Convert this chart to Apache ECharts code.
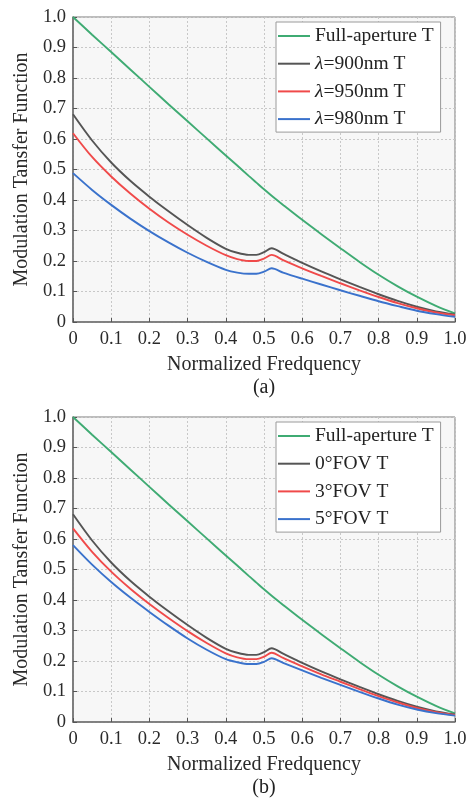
<!DOCTYPE html>
<html>
<head>
<meta charset="utf-8">
<script src="https://cdn.jsdelivr.net/npm/echarts@6/dist/echarts.min.js"></script>
<style>html,body{margin:0;padding:0;background:#fff;}#c{width:472px;height:798px;}</style>
</head>
<body>
<div id="c"></div>
<script>
// ---- data ----
const freq = [0, 0.05, 0.1, 0.15, 0.2, 0.25, 0.3, 0.35, 0.4, 0.43, 0.46, 0.48, 0.5, 0.52, 0.55, 0.6, 0.65, 0.7, 0.75, 0.8, 0.85, 0.9, 0.95, 1.0];
const tickLabels = ['0', '0.1', '0.2', '0.3', '0.4', '0.5', '0.6', '0.7', '0.8', '0.9', '1.0'];

const fullAperture = [1.0, 0.942, 0.885, 0.828, 0.771, 0.714, 0.658, 0.602, 0.546, 0.513, 0.479, 0.457, 0.435, 0.414, 0.384, 0.335, 0.288, 0.242, 0.197, 0.155, 0.117, 0.083, 0.053, 0.028];
const wl900 = [0.681, 0.595, 0.523, 0.463, 0.411, 0.363, 0.318, 0.276, 0.240, 0.227, 0.220, 0.220, 0.229, 0.242, 0.224, 0.194, 0.166, 0.140, 0.115, 0.091, 0.069, 0.050, 0.035, 0.025];
const wl950 = [0.619, 0.541, 0.477, 0.421, 0.371, 0.326, 0.286, 0.250, 0.219, 0.206, 0.200, 0.200, 0.208, 0.220, 0.203, 0.176, 0.151, 0.127, 0.104, 0.082, 0.062, 0.045, 0.031, 0.022];
const wl980 = [0.488, 0.433, 0.384, 0.339, 0.298, 0.261, 0.227, 0.197, 0.171, 0.162, 0.158, 0.158, 0.165, 0.176, 0.162, 0.142, 0.123, 0.104, 0.086, 0.068, 0.052, 0.037, 0.026, 0.017];

const fov0 = [0.681, 0.595, 0.523, 0.463, 0.411, 0.363, 0.318, 0.276, 0.240, 0.227, 0.220, 0.220, 0.229, 0.242, 0.224, 0.194, 0.166, 0.140, 0.115, 0.091, 0.069, 0.050, 0.035, 0.025];
const fov3 = [0.635, 0.558, 0.493, 0.437, 0.387, 0.341, 0.298, 0.259, 0.225, 0.212, 0.206, 0.206, 0.214, 0.227, 0.210, 0.182, 0.156, 0.132, 0.108, 0.085, 0.064, 0.046, 0.032, 0.023];
const fov5 = [0.580, 0.516, 0.459, 0.408, 0.361, 0.316, 0.274, 0.237, 0.206, 0.196, 0.190, 0.190, 0.197, 0.209, 0.194, 0.169, 0.145, 0.122, 0.099, 0.077, 0.057, 0.041, 0.029, 0.021];

const namesA = ['Full-aperture T', 'λ=900nm T', 'λ=950nm T', 'λ=980nm T'];
const namesB = ['Full-aperture T ', '0°FOV T', '3°FOV T', '5°FOV T'];
const colors = ['#3fab73', '#555555', '#f04a4a', '#3a72cc'];

// ---- chart ----
const FONT = '"Liberation Serif", "Times New Roman", serif';
const chart = echarts.init(document.getElementById('c'), null, {renderer: 'canvas'});

function pairs(ys) { return freq.map((x, i) => [x, ys[i]]); }

const grids = [
  {left: 73, top: 17, width: 382, height: 305},
  {left: 73, top: 417, width: 382, height: 305}
];

function xAxis(idx) {
  return {
    type: 'value', gridIndex: idx, min: 0, max: 1, interval: 0.1,
    name: 'Normalized Fredquency', nameLocation: 'middle', nameGap: 33,
    nameTextStyle: {fontFamily: FONT, fontSize: 20, color: '#2a2a2a'},
    axisLine: {show: true, lineStyle: {color: '#6e6e6e', width: 1.6}},
    axisTick: {show: true, inside: true, length: 4, lineStyle: {color: '#555', width: 1}},
    axisLabel: {fontFamily: FONT, fontSize: 18.5, color: '#2a2a2a', margin: 8,
      formatter: v => tickLabels[Math.round(v * 10)]},
    splitLine: {show: true, lineStyle: {color: '#c8c8c8', width: 1, type: [2, 2]}}
  };
}
function yAxis(idx) {
  return {
    type: 'value', gridIndex: idx, min: 0, max: 1, interval: 0.1,
    name: 'Modulation Tansfer Function', nameLocation: 'middle', nameGap: 40,
    nameTextStyle: {fontFamily: FONT, fontSize: 20, color: '#2a2a2a'},
    axisLine: {show: true, lineStyle: {color: '#6e6e6e', width: 1.6}},
    axisTick: {show: true, inside: true, length: 4, lineStyle: {color: '#555', width: 1}},
    axisLabel: {fontFamily: FONT, fontSize: 18.5, color: '#2a2a2a', margin: 7,
      formatter: v => tickLabels[Math.round(v * 10)]},
    splitLine: {show: true, lineStyle: {color: '#c8c8c8', width: 1, type: [2, 2]}}
  };
}

function legend(top, names) {
  return {
    data: names, orient: 'vertical', left: 276, top: top,
    icon: 'rect',
    padding: [4, 7, 3, 2], itemWidth: 32, itemHeight: 2, itemGap: 7.7,
    backgroundColor: '#ffffff', borderColor: '#9a9a9a', borderWidth: 1,
    textStyle: {fontFamily: FONT, fontSize: 19.5, color: '#222', lineHeight: 20,
      rich: {i: {fontFamily: FONT, fontSize: 19.5, fontStyle: 'italic', color: '#222', lineHeight: 20}}},
    formatter: n => n.startsWith('λ') ? '{i|λ}' + n.slice(1) : n.trim(),
    selectedMode: false
  };
}

function line(name, ys, color, gi) {
  return {
    name: name, type: 'line', xAxisIndex: gi, yAxisIndex: gi,
    data: pairs(ys), symbol: 'none', smooth: 0.3,
    lineStyle: {color: color, width: 1.9}, itemStyle: {color: color},
    emphasis: {disabled: true}, z: 3
  };
}

chart.setOption({
  animation: false,
  backgroundColor: '#ffffff',
  grid: grids.map(g => Object.assign({show: true, backgroundColor: '#f7f7f7', borderColor: '#7a7a7a', borderWidth: 1}, g)),
  xAxis: [xAxis(0), xAxis(1)],
  yAxis: [yAxis(0), yAxis(1)],
  legend: [legend(22, namesA), legend(422, namesB)],
  series: [
    line(namesA[0], fullAperture, colors[0], 0),
    line(namesA[1], wl900, colors[1], 0),
    line(namesA[2], wl950, colors[2], 0),
    line(namesA[3], wl980, colors[3], 0),
    line(namesB[0], fullAperture, colors[0], 1),
    line(namesB[1], fov0, colors[1], 1),
    line(namesB[2], fov3, colors[2], 1),
    line(namesB[3], fov5, colors[3], 1)
  ],
  graphic: [
    {type: 'text', x: 264, y: 388, style: {text: '(a)', font: '20px ' + FONT, fill: '#222', align: 'center', verticalAlign: 'middle'}},
    {type: 'text', x: 264, y: 788, style: {text: '(b)', font: '20px ' + FONT, fill: '#222', align: 'center', verticalAlign: 'middle'}}
  ]
});
</script>
</body>
</html>
